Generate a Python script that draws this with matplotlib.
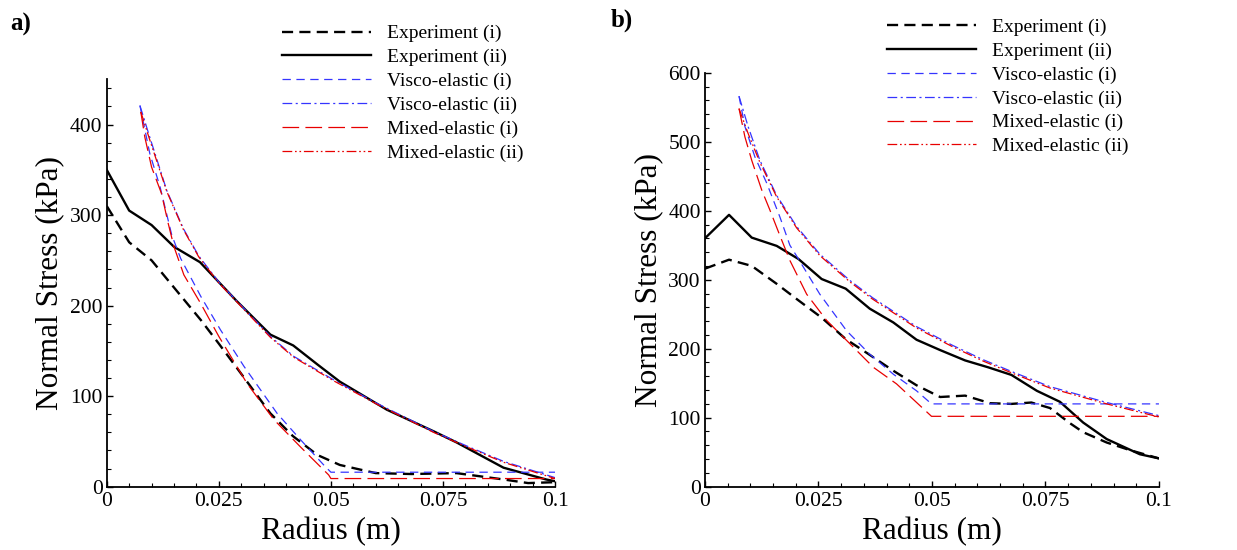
import matplotlib
matplotlib.use("Agg")
import matplotlib.pyplot as plt
from matplotlib.ticker import FixedLocator, MultipleLocator, FuncFormatter


BLACK = "#000000"
BLUE = "#3535ff"
RED = "#e80000"

LABELS = [
    "Experiment (i)",
    "Experiment (ii)",
    "Visco-elastic (i)",
    "Visco-elastic (ii)",
    "Mixed-elastic (i)",
    "Mixed-elastic (ii)",
]

# panel a) readings (radius in m, stress in kPa)
a_exp_i_r = [0, 0.005, 0.010, 0.0155, 0.021, 0.025, 0.031, 0.0365, 0.0415, 0.047, 0.052, 0.060, 0.068, 0.078, 0.0885, 0.094, 0.1]
a_exp_i_v = [310, 270, 250, 217, 184, 158, 118, 81, 56, 35, 24, 15, 14, 15, 8, 4, 5]
a_exp_ii_r = [0, 0.005, 0.010, 0.015, 0.0208, 0.029, 0.0365, 0.0416, 0.047, 0.052, 0.0625, 0.073, 0.078, 0.0885, 0.098, 0.1]
a_exp_ii_v = [350, 305, 289, 265, 248, 205, 168, 156, 135, 116, 85, 61, 49, 21, 8, 6]
a_visco_i_r = [0.0074, 0.0096, 0.0119, 0.0145, 0.0165, 0.021, 0.0254, 0.0306, 0.038, 0.0432, 0.0484, 0.050, 0.1]
a_visco_i_v = [421, 368, 331, 278, 252, 210, 173, 133, 81, 52, 24, 16, 16]
a_visco_ii_r = [0.0074, 0.0096, 0.0134, 0.0171, 0.0205, 0.025, 0.030, 0.0365, 0.0417, 0.0506, 0.0603, 0.0729, 0.0803, 0.0885, 0.1]
a_visco_ii_v = [421, 386, 327, 285, 255, 226, 200, 166, 144, 118, 92, 61, 45, 28, 10]
a_mixed_i_r = [0.0076, 0.0085, 0.010, 0.0122, 0.0137, 0.015, 0.0172, 0.021, 0.025, 0.0313, 0.0373, 0.0432, 0.0495, 0.050, 0.1]
a_mixed_i_v = [414, 386, 353, 324, 291, 265, 234, 202, 166, 114, 74, 44, 13, 9, 9]
a_mixed_ii_r = [0.0076, 0.0096, 0.0134, 0.0171, 0.0205, 0.025, 0.030, 0.0365, 0.0417, 0.0506, 0.0603, 0.0729, 0.0803, 0.0885, 0.1]
a_mixed_ii_v = [414, 383, 326, 284, 254, 225, 199, 165, 143, 117, 91, 60, 44, 27, 9]

# panel b) readings
b_exp_i_r = [0, 0.0053, 0.0103, 0.0158, 0.0206, 0.0257, 0.031, 0.0363, 0.0415, 0.0466, 0.0518, 0.0573, 0.0628, 0.0675, 0.0719, 0.076, 0.0804, 0.0833, 0.0885, 0.0936, 0.1]
b_exp_i_v = [316, 329, 320, 294, 270, 245, 214, 191, 168, 147, 130, 132, 121, 120, 122, 114, 92, 79, 64, 53, 41]
b_exp_ii_r = [0, 0.0053, 0.0103, 0.0158, 0.0206, 0.0257, 0.031, 0.0363, 0.0415, 0.0466, 0.0518, 0.0573, 0.0624, 0.0675, 0.0731, 0.0782, 0.0833, 0.0885, 0.0958, 0.1]
b_exp_ii_v = [360, 394, 361, 349, 330, 301, 287, 258, 238, 213, 198, 183, 173, 162, 139, 123, 93, 69, 47, 41]
b_visco_i_r = [0.0075, 0.0088, 0.011, 0.0136, 0.0165, 0.0187, 0.0206, 0.0253, 0.0312, 0.0363, 0.0415, 0.0466, 0.0499, 0.1]
b_visco_i_v = [566, 522, 478, 440, 391, 350, 330, 279, 226, 192, 163, 139, 120, 120]
b_visco_ii_r = [0.0075, 0.0095, 0.0121, 0.0158, 0.0202, 0.0253, 0.0319, 0.0369, 0.0466, 0.0545, 0.0613, 0.0679, 0.076, 0.0885, 0.1]
b_visco_ii_v = [566, 522, 473, 422, 377, 337, 299, 274, 232, 205, 184, 166, 145, 122, 103]
b_mixed_i_r = [0.0075, 0.0088, 0.0103, 0.0125, 0.0143, 0.0165, 0.0187, 0.0224, 0.0268, 0.0312, 0.0371, 0.0422, 0.0499, 0.1]
b_mixed_i_v = [548, 507, 473, 430, 401, 364, 328, 279, 241, 212, 173, 149, 102, 102]
b_mixed_ii_r = [0.0075, 0.0095, 0.0121, 0.0158, 0.0202, 0.0253, 0.0319, 0.0369, 0.0466, 0.0545, 0.0613, 0.0679, 0.076, 0.0885, 0.1]
b_mixed_ii_v = [548, 512, 470, 420, 375, 335, 297, 272, 230, 203, 182, 164, 143, 120, 101]

X_TICKS = [0, 0.025, 0.05, 0.075, 0.1]


def setup():
    plt.rcParams.update(
        {
            "font.family": ["Liberation Serif", "DejaVu Serif"],
            "font.size": 15,
            "lines.scale_dashes": False,
            "axes.linewidth": 1.3,
            "xtick.direction": "in",
            "ytick.direction": "in",
            "xtick.major.size": 4.5,
            "ytick.major.size": 4.5,
            "xtick.minor.size": 3.0,
            "ytick.minor.size": 3.0,
            "xtick.major.width": 1.0,
            "ytick.major.width": 1.0,
            "xtick.minor.width": 0.8,
            "ytick.minor.width": 0.8,
            "xtick.major.pad": 4,
            "ytick.major.pad": 3,
            "xtick.labelsize": 15.5,
            "ytick.labelsize": 15.5,
        }
    )


STYLES = [
    dict(color=BLACK, lw=1.7, dashes=(8, 4.5)),
    dict(color=BLACK, lw=1.7, ls="-"),
    dict(color=BLUE, lw=0.9, dashes=(6, 4)),
    dict(color=BLUE, lw=0.9, dashes=(7, 2.5, 1.5, 2.5)),
    dict(color=RED, lw=0.9, dashes=(12, 4.5)),
    dict(color=RED, lw=0.9, dashes=(7, 2, 1.2, 2, 1.2, 2)),
]


def panel(ax, series, ymax, ymajor):
    for (r, v), label, style in zip(series, LABELS, STYLES):
        ax.plot(r, v, label=label, **style)
    ax.set_xlim(0, 0.1)
    ax.set_ylim(0, ymax)
    ax.spines["top"].set_visible(False)
    ax.spines["right"].set_visible(False)
    ax.xaxis.set_major_locator(FixedLocator(X_TICKS))
    ax.xaxis.set_minor_locator(MultipleLocator(0.005))
    ax.xaxis.set_major_formatter(FuncFormatter(lambda v, _: f"{v:g}"))
    ax.yaxis.set_major_locator(FixedLocator(ymajor))
    ax.yaxis.set_minor_locator(MultipleLocator(20))
    ax.set_xlabel("Radius (m)", fontsize=22.5, labelpad=4)
    ax.set_ylabel("Normal Stress (kPa)", fontsize=22.5, labelpad=4)


def legend(ax, fig, x, y):
    ax.legend(
        loc="upper left",
        bbox_to_anchor=(x, y),
        bbox_transform=fig.transFigure,
        frameon=False,
        fontsize=14,
        handlelength=4.6,
        handletextpad=0.8,
        labelspacing=0.32,
        borderpad=0,
        borderaxespad=0,
    )


def main():
    setup()
    fig = plt.figure(figsize=(12.37, 5.5), dpi=100)
    ax_a = fig.add_axes([0.0863, 0.1151, 0.3624, 0.7407])
    ax_b = fig.add_axes([0.5699, 0.1151, 0.3670, 0.7527])

    panel(
        ax_a,
        [
            (a_exp_i_r, a_exp_i_v),
            (a_exp_ii_r, a_exp_ii_v),
            (a_visco_i_r, a_visco_i_v),
            (a_visco_ii_r, a_visco_ii_v),
            (a_mixed_i_r, a_mixed_i_v),
            (a_mixed_ii_r, a_mixed_ii_v),
        ],
        450,
        [0, 100, 200, 300, 400],
    )
    panel(
        ax_b,
        [
            (b_exp_i_r, b_exp_i_v),
            (b_exp_ii_r, b_exp_ii_v),
            (b_visco_i_r, b_visco_i_v),
            (b_visco_ii_r, b_visco_ii_v),
            (b_mixed_i_r, b_mixed_i_v),
            (b_mixed_ii_r, b_mixed_ii_v),
        ],
        600,
        [0, 100, 200, 300, 400, 500, 600],
    )

    legend(ax_a, fig, 0.228, 0.955)
    legend(ax_b, fig, 0.717, 0.967)

    fig.text(0.008, 0.977, "a)", fontsize=18, fontweight="bold", va="top")
    fig.text(0.494, 0.985, "b)", fontsize=18, fontweight="bold", va="top")

    fig.savefig("out.png", dpi=100)


if __name__ == "__main__":
    main()
